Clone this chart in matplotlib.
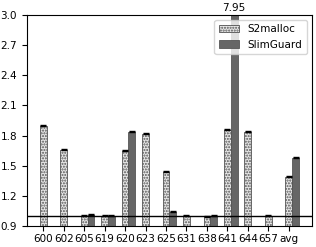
import numpy as np
import matplotlib.pyplot as plt

benchmarks = ['600', '602', '605', '619', '620', '623', '625', '631', '638', '641', '644', '657', 'avg']
s2malloc = [1.90, 1.66, 1.00, 1.00, 1.65, 1.82, 1.44, 1.00, 0.99, 1.86, 1.84, 1.00, 1.39]
slimguard = [0, 0, 1.01, 1.00, 1.84, 0, 1.04, 0, 1.00, 7.95, 0, 0, 1.58]
s2_err = [0.005] * len(benchmarks)
sg_err = [0.005] * len(benchmarks)
yticks = [0.9, 1.2, 1.5, 1.8, 2.1, 2.4, 2.7, 3.0]

plt.rcParams['font.size'] = 7.5
plt.rcParams['hatch.color'] = '#999999'

fig, ax = plt.subplots(figsize=(3.16, 2.47), dpi=100)
fig.subplots_adjust(left=0.085, right=0.987, top=0.939, bottom=0.085)

x = np.arange(len(benchmarks))
w = 0.33
ax.bar(x, s2malloc, w, yerr=s2_err, capsize=2, color='#e6e6e6', hatch='......',
       edgecolor='#555555', linewidth=0.6, label='S2malloc', error_kw={'elinewidth': 0.8})
ax.bar(x + w, slimguard, w, yerr=sg_err, capsize=2, color='#666666',
       edgecolor='#555555', linewidth=0.6, label='SlimGuard', error_kw={'elinewidth': 0.8})

ax.axhline(1.0, color='black', linewidth=1)
ax.set_ylim(0.9, 3.0)
ax.set_yticks(yticks)
ax.set_xticks(x)
ax.set_xticklabels(benchmarks)
ax.tick_params(axis='x', pad=2)
ax.text(x[9] + w, 3.02, '7.95', ha='center', va='bottom')

ax.legend(loc='upper right')
plt.savefig('out.png')
